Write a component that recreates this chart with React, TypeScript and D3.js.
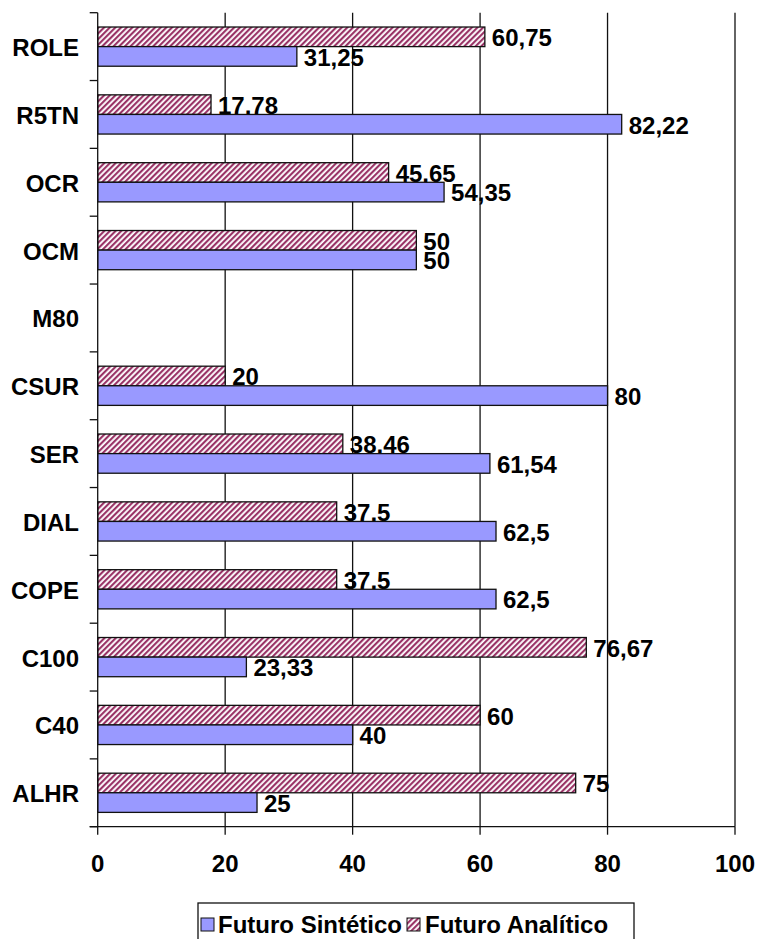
import * as d3 from 'd3';

const categories = ['ROLE', 'R5TN', 'OCR', 'OCM', 'M80', 'CSUR', 'SER', 'DIAL', 'COPE', 'C100', 'C40', 'ALHR'];
const sintetico: (number | null)[] = [31.25, 82.22, 54.35, 50, null, 80, 61.54, 62.5, 62.5, 23.33, 40, 25];
const analitico: (number | null)[] = [60.75, 17.78, 45.65, 50, null, 20, 38.46, 37.5, 37.5, 76.67, 60, 75];
const xTicks = [0, 20, 40, 60, 80, 100];

const width = 758;
const height = 939;
const left = 97.7;
const right = 735;
const top = 12.7;
const bottom = 826.7;
const font = 'Liberation Sans, Arial, sans-serif';

const fmt = (v: number) => String(v).replace('.', ',');

function App() {
  const x = d3.scaleLinear([0, 100], [left, right]);
  const y = d3.scaleBand(categories, [top, bottom]);
  const bw = y.bandwidth();
  const barH = 19.6;
  const pad = (bw - 2 * barH) / 2;

  const series = [
    { key: 'a', values: analitico, fill: 'url(#hatch)', offset: pad },
    { key: 's', values: sintetico, fill: '#9999FF', offset: pad + barH },
  ];

  const boundaries = categories.map((_, i) => top + i * bw).concat([bottom]);

  return (
    <svg width={width} height={height} style={{ position: 'absolute', left: 0, top: 0 }} fontFamily={font}>
      <defs>
        <pattern id="hatch" width={4} height={4} patternUnits="userSpaceOnUse" patternTransform="rotate(45)">
          <rect width={4} height={4} fill="#fff" />
          <line x1={1} y1={0} x2={1} y2={4} stroke="#993366" strokeWidth={2.3} />
        </pattern>
      </defs>

      {/* grid */}
      {xTicks.slice(1).map(t => (
        <line key={t} x1={x(t)} x2={x(t)} y1={top} y2={bottom} stroke="#111" strokeWidth={1.3} />
      ))}

      {/* bars */}
      {series.map(s =>
        s.values.map((v, i) =>
          v == null ? null : (
            <g key={s.key + i}>
              <rect
                x={x(0)}
                y={(y(categories[i]) ?? 0) + s.offset}
                width={x(v) - x(0)}
                height={barH}
                fill={s.fill}
                stroke="#111"
                strokeWidth={1.3}
              />
              <text
                x={x(v) + 7}
                y={(y(categories[i]) ?? 0) + s.offset + barH / 2 + 1}
                dy="0.35em"
                fontSize={24}
                fontWeight="bold"
                fill="#000"
              >
                {fmt(v)}
              </text>
            </g>
          )
        )
      )}

      {/* axes */}
      <line x1={left} x2={left} y1={top} y2={bottom} stroke="#111" strokeWidth={1.3} />
      <line x1={left - 8} x2={right} y1={bottom} y2={bottom} stroke="#111" strokeWidth={1.3} />
      {boundaries.map((b, i) => (
        <line key={i} x1={left - 8} x2={left} y1={b} y2={b} stroke="#111" strokeWidth={1.3} />
      ))}
      {xTicks.map(t => (
        <g key={t}>
          <line x1={x(t)} x2={x(t)} y1={bottom} y2={bottom + 8} stroke="#111" strokeWidth={1.3} />
          <text x={x(t)} y={bottom + 45.5} textAnchor="middle" fontSize={24} fontWeight="bold">
            {t}
          </text>
        </g>
      ))}
      {categories.map(c => (
        <text
          key={c}
          x={79}
          y={(y(c) ?? 0) + bw / 2 + 1}
          dy="0.35em"
          textAnchor="end"
          fontSize={24}
          fontWeight="bold"
        >
          {c}
        </text>
      ))}

      {/* legend */}
      <rect x={198} y={903} width={436} height={42} fill="#fff" stroke="#111" strokeWidth={1.3} />
      <rect x={201} y={918} width={13} height={13} fill="#9999FF" stroke="#111" strokeWidth={1} />
      <text x={218} y={933} fontSize={24} fontWeight="bold">Futuro Sintético</text>
      <rect x={407} y={918} width={13} height={13} fill="url(#hatch)" stroke="#111" strokeWidth={1} />
      <text x={425} y={933} fontSize={24} fontWeight="bold">Futuro Analítico</text>
    </svg>
  );
}

export default App;
